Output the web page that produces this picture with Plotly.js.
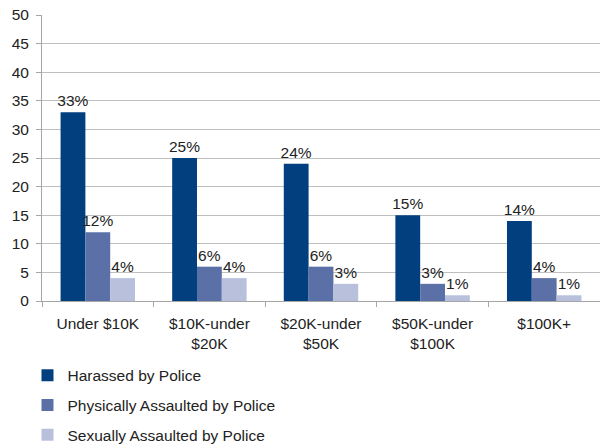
<!DOCTYPE html>
<html>
<head>
<meta charset="utf-8">
<script src="https://cdn.plot.ly/plotly-3.0.1.min.js"></script>
<style>html,body{margin:0;padding:0;background:#fff;}#chart{width:600px;height:447px;}</style>
</head>
<body>
<div id="chart"></div>
<script>
const categories = ["Under $10K", "$10K-under<br>$20K", "$20K-under<br>$50K", "$50K-under<br>$100K", "$100K+"];
const harassed = [33, 25, 24, 15, 14];
const physically = [12, 6, 6, 3, 4];
const sexually = [4, 4, 3, 1, 1];
const seriesNames = ["Harassed by Police", "Physically Assaulted by Police", "Sexually Assaulted by Police"];
const seriesColors = ["#023F7F", "#5A70A7", "#B8C0DC"];
const yTicks = [0, 5, 10, 15, 20, 25, 30, 35, 40, 45, 50];

const FONT = "'Liberation Sans', Arial, sans-serif";
const FS = 15.5;
const seriesValues = [harassed, physically, sexually];

const traces = seriesValues.map((vals, i) => ({
  type: 'bar',
  name: seriesNames[i],
  x: categories,
  y: vals,
  text: vals.map(v => v + '%'),
  textposition: 'outside',
  constraintext: 'none',
  cliponaxis: false,
  textfont: {family: FONT, size: FS, color: '#222'},
  marker: {color: seriesColors[i], line: {width: 0}},
  legendgroup: 'g' + i,
  hoverinfo: 'none'
}));

const layout = {
  width: 600, height: 447,
  margin: {l: 42, r: 0, t: 15, b: 146, autoexpand: false},
  paper_bgcolor: '#fff', plot_bgcolor: '#fff',
  font: {family: FONT, size: FS, color: '#222'},
  barmode: 'group',
  bargap: 0.333,
  bargroupgap: 0,
  showlegend: true,
  legend: {
    orientation: 'v', x: -0.026, xanchor: 'left', y: -0.202, yanchor: 'top',
    traceorder: 'grouped', tracegroupgap: 6.5,
    font: {family: FONT, size: FS, color: '#222'}
  },
  xaxis: {
    type: 'category',
    showgrid: false,
    showline: true, linecolor: '#A6A6A6', linewidth: 1,
    ticks: 'outside', tickson: 'boundaries', ticklen: 5, tickcolor: '#A6A6A6',
    tickfont: {family: FONT, size: FS, color: '#222'},
    ticklabelstandoff: 8
  },
  yaxis: {
    range: [0, 50],
    tickvals: yTicks,
    showgrid: true, gridcolor: '#BFBFBF', gridwidth: 1,
    showline: true, linecolor: '#A6A6A6', linewidth: 1,
    ticks: 'outside', ticklen: 5, tickcolor: '#A6A6A6',
    zeroline: false,
    tickfont: {family: FONT, size: FS, color: '#222'},
    ticklabelstandoff: 4
  }
};

Plotly.newPlot('chart', traces, layout, {staticPlot: true, displayModeBar: false});
</script>
</body>
</html>
